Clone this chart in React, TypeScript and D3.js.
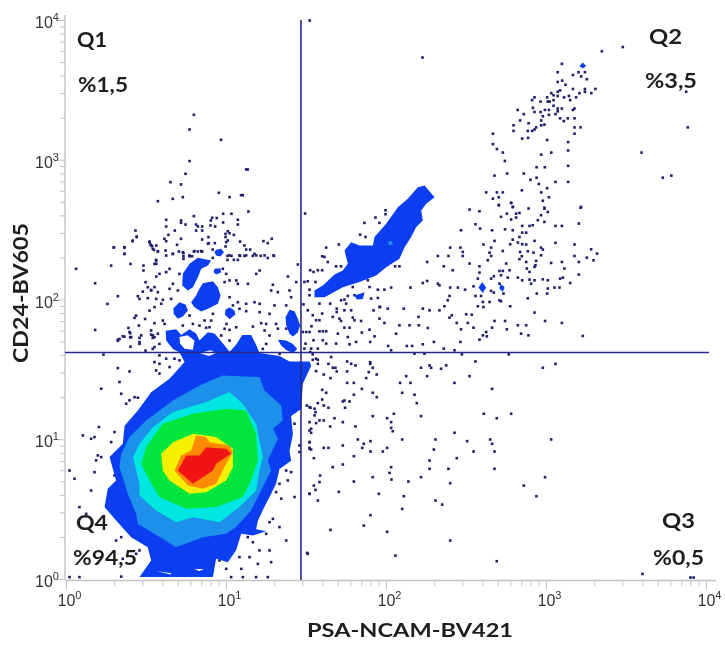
import React from "react";
import * as d3 from "d3";

type P = number[];
// All event positions are log10(fluorescence): [log10 PSA-NCAM, log10 CD24]
const xTickDecades = [0, 1, 2, 3, 4];
const yTickDecades = [0, 1, 2, 3, 4];
const gateX = 29.2;
const gateY = 42.1;
const quadrants = [
  { name: "Q1", pct: "%1,5" },
  { name: "Q2", pct: "%3,5" },
  { name: "Q3", pct: "%0,5" },
  { name: "Q4", pct: "%94,5" },
];

const densityLevels: P[][] = [
  [[.62,1.78],[.685,1.79],[.717,1.75],[.769,1.79],[.81,1.76],[.831,1.71],[.883,1.77],[.925,1.76],[.977,1.69],[1.019,1.63],[1.06,1.68],[1.098,1.75],[1.154,1.75],[1.185,1.68],[1.206,1.62],[1.331,1.6],[1.394,1.56],[1.519,1.56],[1.529,1.53],[1.477,1.4],[1.467,1.22],[1.404,1.17],[1.415,1.04],[1.394,.92],[1.404,.85],[1.331,.79],[1.31,.685],[1.269,.59],[1.237,.52],[1.196,.42],[1.185,.36],[1.248,.346],[1.165,.315],[1.092,.327],[1.06,.21],[1.008,.124],[.935,.148],[.915,.017],[.456,.017],[.529,.136],[.508,.231],[.404,.303],[.31,.422],[.238,.518],[.258,.649],[.31,.709],[.269,.876],[.352,.971],[.363,1.1],[.446,1.21],[.529,1.34],[.644,1.436],[.738,1.556],[.706,1.627],[.665,1.65],[.623,1.71]],
  [[.977,1.46],[1.206,1.449],[1.2375,1.353],[1.342,1.245],[1.352,1.138],[1.29,1.078],[1.321,1.007],[1.258,.852],[1.279,.78],[1.206,.613],[1.154,.494],[1.06,.375],[.998,.327],[.852,.303],[.685,.231],[.602,.291],[.446,.398],[.435,.47],[.383,.613],[.331,.804],[.342,.9],[.394,1.019],[.498,1.138],[.665,1.281],[.831,1.389]],
  [[1.019,1.341],[1.102,1.258],[1.185,1.114],[1.227,.875],[1.206,.78],[1.185,.637],[1.081,.518],[.956,.41],[.79,.446],[.685,.41],[.56,.494],[.456,.601],[.456,.685],[.415,.875],[.456,.971],[.54,1.09],[.665,1.198],[.873,1.27]],
  [[.998,1.222],[1.123,1.21],[1.185,1.043],[1.196,.852],[1.154,.709],[1.102,.59],[.935,.518],[.748,.506],[.581,.59],[.519,.709],[.467,.828],[.498,.948],[.602,1.114],[.79,1.186]],
  [[.79,1.043],[.935,1.019],[1.04,.935],[1.04,.804],[.998,.709],[.873,.625],[.769,.613],[.644,.709],[.602,.78],[.592,.9],[.665,.983]],
  [[.81,1.031],[.873,1.019],[.894,.983],[1.019,.959],[1.04,.911],[.998,.828],[.935,.685],[.852,.649],[.758,.673],[.675,.78],[.717,.887],[.779,.923]],
  [[.748,.887],[.831,.887],[.873,.947],[.998,.935],[1.029,.899],[.935,.828],[.915,.78],[.79,.685],[.696,.78]],
];
const levelColors = ["#0a3ef0", "#1c90ea", "#00e6e0", "#00e63c", "#f4f000", "#ff8c00", "#f01414"];

const outerIslands: P[][] = [
  [[.727,2.187],[.769,2.259],[.821,2.302],[.904,2.283],[.884,2.247],[.842,2.223],[.821,2.163],[.79,2.092],[.759,2.068],[.723,2.104]],
  [[.852,2.12],[.915,2.135],[.946,2.092],[.963,2.032],[.946,1.973],[.884,1.937],[.842,1.918],[.8,1.949],[.779,1.984],[.81,2.032],[.831,2.08]],
  [[.706,1.984],[.744,1.968],[.759,1.925],[.727,1.882],[.696,1.865],[.669,1.901],[.669,1.941]],
  [[1.019,1.949],[1.05,1.925],[1.056,1.896],[1.019,1.863],[.99,1.896],[.994,1.93]],
  [[.935,2.359],[.967,2.366],[.984,2.342],[.961,2.311],[.935,2.319],[.925,2.342]],
  [[.925,2.223],[.961,2.228],[.967,2.199],[.936,2.183],[.919,2.199]],
  [[1.394,1.93],[1.425,1.92],[1.446,1.865],[1.46,1.817],[1.446,1.77],[1.415,1.739],[1.394,1.758],[1.373,1.817],[1.369,1.877]],
  [[1.321,1.715],[1.373,1.71],[1.415,1.686],[1.442,1.65],[1.415,1.619],[1.373,1.643],[1.342,1.674]],
  [[1.55,2.068],[1.602,2.104],[1.675,2.182],[1.727,2.211],[1.758,2.259],[1.738,2.354],[1.779,2.414],[1.831,2.39],[1.915,2.39],[1.925,2.45],[1.998,2.545],[2.071,2.664],[2.133,2.724],[2.196,2.807],[2.238,2.819],[2.3,2.736],[2.248,2.688],[2.217,2.64],[2.227,2.569],[2.185,2.521],[2.154,2.45],[2.113,2.378],[2.081,2.295],[1.998,2.235],[1.935,2.175],[1.831,2.128],[1.727,2.092],[1.613,2.02],[1.55,2.02]],
  [[1.8,2.032],[1.863,2.056],[1.852,2.008],[1.815,2.003]],
  [[2.598,2.129],[2.623,2.089],[2.602,2.05],[2.575,2.089]],
  [[2.712,2.117],[2.737,2.089],[2.727,2.058],[2.706,2.082]],
  [[3.227,3.7],[3.248,3.675],[3.227,3.656],[3.206,3.675]],
];
const lightSpot: P[] = [[2.01,2.42],[2.035,2.42],[2.04,2.395],[2.015,2.39]];
const densityGaps: P[][] = [
  [[.56,.06],[.655,.045],[.65,.035],[.6,.05]],
  [[.8,.076],[.86,.076],[.83,.06]],
  [[.706,1.735],[.756,1.747],[.8,1.711],[.79,1.644],[.738,1.652],[.71,1.687]],
  [[.83,1.62],[.9,1.64],[.935,1.62],[.89,1.6]],
];

const eventsDiagonalHigh: P[] = [[3.477,3.81],[3.346,3.78],[3.096,3.69],[3.07,3.63],[3.2,3.63],[3.165,3.61],[3.24,3.63],[3.217,3.6],[3.252,3.58],[3.07,3.56],[3.098,3.57],[3.119,3.54],[3.085,3.5],[3.07,3.49],[3.165,3.51],[3.206,3.48],[3.24,3.51],[3.24,3.49],[3.28,3.48],[3.306,3.51],[3.03,3.48],[3.044,3.465],[3.07,3.46],[3.11,3.45],[3.14,3.46],[3.185,3.45],[3.148,3.43],[2.925,3.45],[2.91,3.43],[3.004,3.45],[2.963,3.42],[3.008,3.42],[3.044,3.43],[3.02,3.42],[3.044,3.39],[2.915,3.375],[2.82,3.36],[2.858,3.33],[2.925,3.345],[2.963,3.345],[2.99,3.36],[3.015,3.36],[3.07,3.37],[3.096,3.37],[3.07,3.35],[3.175,3.37],[3.165,3.36],[3.015,3.325],[2.977,3.315],[3.056,3.33],[3.085,3.3],[3.108,3.28],[3.133,3.3],[3.175,3.3],[2.967,3.285],[2.835,3.285],[2.888,3.265],[2.794,3.25],[2.987,3.255],[2.967,3.25],[2.935,3.235],[2.925,3.22],[2.883,3.21],[2.91,3.21],[2.794,3.21],[3.175,3.235],[3.213,3.235],[3.175,3.19],[2.665,3.19],[2.848,3.155],[2.885,3.16],[3.004,3.145],[3.135,3.13],[2.665,3.115],[2.69,3.08],[2.727,3.055],[3.135,3.07],[3.03,3.055],[2.967,3.04],[3.594,3.055],[3.883,3.235],[2.74,2.995],[3.135,2.96],[2.938,2.95],[2.99,2.95],[2.675,2.89],[2.754,2.905],[2.858,2.905],[2.9,2.86],[2.938,2.875],[3.056,2.845],[3.135,2.845],[2.952,2.83],[3.004,2.8],[2.846,2.785],[2.623,2.77],[2.69,2.77],[2.727,2.77],[2.967,2.77],[3.015,2.735],[2.665,2.725],[2.702,2.735],[2.977,2.71],[2.779,2.695],[2.702,2.68],[2.987,2.66],[2.79,2.665],[2.888,2.655],[3.213,2.66],[3.727,2.875],[3.78,2.89],[3.873,3.49],[1.52,4.0],[2.225,3.735]];

const eventsAboveGateRight: P[] = [[2.519,2.647],[2.581,2.635],[2.702,2.678],[2.779,2.695],[2.789,2.666],[2.752,2.618],[2.81,2.618],[2.831,2.623],[2.716,2.595],[2.779,2.576],[2.81,2.59],[2.987,2.654],[3.008,2.63],[2.966,2.607],[3.216,2.666],[2.946,2.571],[2.987,2.559],[2.914,2.535],[2.848,2.53],[2.894,2.53],[3.056,2.53],[3.096,2.53],[3.202,2.547],[2.556,2.542],[2.585,2.511],[2.66,2.499],[2.741,2.506],[2.466,2.499],[2.789,2.499],[2.848,2.482],[2.873,2.482],[2.831,2.451],[2.789,2.432],[2.773,2.399],[2.675,2.423],[2.606,2.397],[2.821,2.411],[2.848,2.399],[2.873,2.397],[2.925,2.423],[3.056,2.409],[3.175,2.397],[2.654,2.375],[2.966,2.375],[2.977,2.361],[3.279,2.363],[3.316,2.332],[2.398,2.375],[2.462,2.375],[2.477,2.344],[2.644,2.339],[2.727,2.351],[2.835,2.344],[2.846,2.313],[2.883,2.349],[2.919,2.339],[2.966,2.32],[3.175,2.315],[3.252,2.303],[3.294,2.284],[2.321,2.315],[2.387,2.315],[2.477,2.315],[2.654,2.315],[2.633,2.284],[2.831,2.292],[2.873,2.272],[2.935,2.28],[3.029,2.265],[3.096,2.272],[3.202,2.272],[2.254,2.272],[2.519,2.261],[2.358,2.241],[2.581,2.241],[2.748,2.261],[2.877,2.225],[2.925,2.237],[3.112,2.225],[2.931,2.249],[2.414,2.213],[2.706,2.208],[2.727,2.208],[2.769,2.213],[2.581,2.196],[2.894,2.201],[3.202,2.182],[2.654,2.153],[2.671,2.17],[2.716,2.177],[2.571,2.153],[2.758,2.16],[2.821,2.16],[2.848,2.141],[2.894,2.146],[2.925,2.141],[2.977,2.148],[3.008,2.141],[3.085,2.153],[3.102,2.16],[3.148,2.122],[2.254,2.136],[2.321,2.117],[2.331,2.105],[2.227,2.122],[2.706,2.117],[2.904,2.117],[2.727,2.089],[3.05,2.089],[3.008,2.082],[3.081,2.089],[2.15,2.089],[2.398,2.089],[2.446,2.089],[2.491,2.074],[2.544,2.098],[2.654,2.065],[2.731,2.046],[2.939,2.046],[3.004,2.046],[2.394,2.029],[2.556,2.029],[2.591,2.029],[2.671,2.053],[2.706,1.998],[2.883,2.012],[2.362,1.955],[2.383,1.998],[2.602,1.986],[2.644,1.986],[2.716,1.991],[2.571,1.955],[2.606,1.95],[2.773,1.955],[2.227,1.938],[2.269,1.926],[2.331,1.926],[2.108,1.938],[2.008,1.938],[1.96,1.95],[2.925,1.91],[2.498,1.898],[2.533,1.895],[2.408,1.891],[2.394,1.874],[2.991,1.85],[3.096,1.836],[2.2,1.879],[2.202,1.819],[2.144,1.819],[2.081,1.819],[2.439,1.836],[2.508,1.836],[2.675,1.85],[2.741,1.85],[2.821,1.819],[2.873,1.819],[2.258,1.8],[2.466,1.79],[2.544,1.802],[2.66,1.802],[2.752,1.79],[2.841,1.759],[2.887,1.747],[3.227,1.743],[2.623,1.771],[2.602,1.747],[2.627,1.74],[2.581,1.716],[2.06,1.759],[2.462,1.7],[2.296,1.7],[2.227,1.683],[2.358,1.652],[2.425,1.64],[2.127,1.671],[2.16,1.671],[2.01,1.671],[2.029,1.64],[2.175,1.616],[2.237,1.616],[2.471,1.611],[2.764,1.611]];

const eventsAboveGateNear: P[] = [[1.491,2.619],[1.862,2.552],[1.931,2.59],[1.956,2.552],[1.994,2.642],[1.994,2.614],[1.835,2.468],[1.869,2.451],[1.702,2.397],[1.623,2.375],[1.598,2.313],[1.633,2.272],[1.612,2.308],[1.523,2.213],[1.544,2.201],[1.571,2.213],[1.598,2.213],[1.685,2.241],[1.716,2.241],[1.487,2.129],[1.508,2.134],[1.556,2.129],[1.519,2.074],[1.519,2.034],[2.054,2.241],[2.081,2.241],[1.883,2.141],[1.894,2.093],[1.789,2.093],[1.737,2.003],[1.758,2.029],[1.716,1.998],[1.748,1.974],[1.8,2.034],[1.904,2.01],[1.946,2.074],[1.987,2.074],[2.029,2.089],[1.946,2.015],[1.919,1.926],[1.956,1.95],[1.481,1.969],[1.508,1.926],[1.581,1.974],[1.648,1.974],[1.689,1.938],[1.689,1.914],[1.737,1.926],[1.779,1.926],[1.789,1.874],[1.539,1.891],[1.598,1.903],[1.56,1.855],[1.581,1.855],[1.664,1.879],[1.706,1.867],[1.716,1.85],[1.8,1.855],[1.841,1.85],[1.956,1.867],[1.987,1.836],[1.531,1.812],[1.581,1.776],[1.602,1.776],[1.623,1.776],[1.519,1.771],[1.477,1.771],[1.498,1.771],[1.696,1.759],[1.737,1.802],[1.769,1.802],[1.894,1.788],[1.846,1.767],[1.925,1.74],[1.758,1.735],[1.602,1.712],[1.544,1.712],[1.685,1.688],[1.769,1.683],[1.81,1.7],[1.898,1.7],[1.623,1.688],[1.494,1.688],[1.487,1.652],[1.529,1.652],[1.571,1.652],[1.523,1.628],[1.539,1.611],[1.654,1.592],[1.56,1.58]];

const eventsBelowGateRight: P[] = [[1.539,1.572],[1.571,1.572],[1.571,1.543],[1.637,1.543],[1.754,1.56],[1.779,1.543],[1.806,1.532],[1.898,1.555],[1.898,1.543],[2.556,1.56],[3.056,1.543],[2.977,1.515],[1.664,1.515],[1.681,1.515],[1.56,1.491],[1.689,1.489],[1.754,1.489],[1.914,1.515],[2.216,1.515],[2.269,1.532],[2.279,1.515],[2.373,1.532],[2.341,1.508],[1.889,1.484],[1.939,1.467],[1.608,1.467],[2.123,1.455],[2.254,1.455],[2.519,1.455],[1.65,1.441],[1.873,1.441],[1.754,1.407],[1.796,1.407],[2.085,1.407],[2.15,1.407],[2.425,1.407],[1.846,1.364],[1.598,1.357],[1.623,1.336],[1.914,1.336],[2.098,1.336],[2.175,1.322],[2.66,1.364],[1.796,1.322],[1.939,1.305],[1.598,1.288],[1.737,1.281],[1.727,1.274],[1.769,1.274],[2.189,1.262],[1.571,1.262],[1.502,1.245],[1.525,1.229],[1.608,1.245],[1.637,1.229],[1.741,1.229],[1.556,1.197],[1.55,1.174],[2.608,1.186],[2.779,1.186],[2.046,1.186],[1.914,1.169],[2.216,1.169],[2.004,1.154],[2.689,1.154],[1.675,1.154],[1.581,1.138],[1.608,1.138],[1.519,1.126],[1.56,1.119],[1.727,1.126],[2.029,1.126],[1.806,1.095],[1.648,1.095],[2.029,1.085],[2.039,1.061],[1.519,1.066],[1.529,1.05],[2.425,1.05],[1.821,1.002],[1.9,.99],[1.858,.971],[2.098,1.002],[2.306,1.002],[2.504,.99],[2.648,1.002],[2.66,.971],[3.029,1.002],[1.519,.983],[1.519,.942],[1.529,.93],[1.608,.942],[1.637,.942],[1.727,.959],[1.848,.942],[2.004,.942],[2.296,.93],[1.9,.916],[1.977,.916],[2.544,.916],[2.675,.916],[1.796,.882],[1.546,.868],[2.439,.868],[2.269,.851],[1.727,.823],[1.664,.804],[2.029,.804],[2.269,.792],[2.387,.792],[2.675,.792],[2.019,.763],[1.585,.744],[1.914,.732],[2.216,.732],[2.991,.732],[2.031,.715],[1.796,.701],[2.137,.701],[2.398,.689],[1.546,.672],[2.858,.672],[1.556,.641],[1.702,.627],[1.519,.613],[1.952,.613],[2.108,.596],[2.937,.596],[1.571,.565],[2.306,.565],[2.348,.536],[2.098,.505],[1.9,.46],[1.858,.386],[1.65,.355],[2.004,.341],[2.398,.279],[1.504,.19],[2.056,.171],[2.689,.131],[3.6,.04],[3.9,.014],[3.92,.014]];

const eventsQ1Upper: P[] = [[.796,3.325],[.769,3.22],[.966,3.146],[.769,2.994],[1.123,2.934],[1.133,2.934],[.744,2.903],[.65,2.843],[.716,2.827],[.952,2.767],[1.091,2.75],[1.102,2.75],[1.019,2.736],[.727,2.736],[.664,2.724],[.571,2.707],[1.137,2.633],[.796,2.6],[.979,2.617],[1.031,2.617],[.91,2.588],[.939,2.586],[.902,2.569],[.623,2.574],[.716,2.569],[.716,2.552],[.744,2.54],[1.071,2.574],[.979,2.555],[1.071,2.54],[.9,2.533],[.81,2.54],[.821,2.526],[.848,2.526],[.929,2.526],[.623,2.526],[.431,2.497],[.677,2.497],[.81,2.497],[.848,2.497],[1.008,2.492],[.994,2.473],[1.019,2.478],[1.046,2.466],[.637,2.466],[.439,2.45],[.887,2.45],[.848,2.433],[.994,2.45],[.716,2.438],[.612,2.438],[.623,2.421],[.414,2.421],[.519,2.418],[1.085,2.418],[1.231,2.421],[1.283,2.438],[1.258,2.407],[.889,2.407],[.927,2.407],[1.008,2.426],[.998,2.414],[.994,2.383],[.525,2.397],[.535,2.385],[.691,2.395],[1.112,2.39],[.296,2.375],[.362,2.375],[.546,2.359],[.571,2.347],[.796,2.347],[.821,2.347],[.848,2.347],[1.123,2.361],[1.148,2.361],[.702,2.347],[.731,2.335],[.914,2.361],[.362,2.33],[.664,2.33],[.623,2.318],[.731,2.313],[.769,2.313],[.785,2.313],[.914,2.301],[1.006,2.316],[1.031,2.316],[1.085,2.316],[1.112,2.316],[1.164,2.316],[1.214,2.316],[1.258,2.301],[1.296,2.316],[1.175,2.33],[.56,2.287],[.731,2.294],[1.006,2.287],[1.046,2.287],[1.071,2.287]];

const eventsQ1Band: P[] = [[.561,2.39],[.619,2.354],[.665,2.33],[.727,2.342],[.769,2.319],[.8,2.35],[.842,2.35],[.884,2.402],[1.019,2.319],[1.081,2.319],[1.123,2.319],[1.186,2.319],[1.238,2.319],[1.294,2.319],[.561,2.259],[.644,2.223],[.623,2.199],[.561,2.168],[.581,2.187],[.706,2.187],[.665,2.116],[.55,2.092],[.644,2.08],[.571,2.056],[.529,2.068],[.696,2.068],[.654,2.008],[.561,2.008],[.602,2.001],[.55,1.949],[.592,1.973],[.769,1.889],[.977,2.223],[.998,2.187],[1.019,2.14],[.988,2.128],[1.061,2.14],[1.134,2.116],[1.071,2.116],[1.186,2.187],[1.207,2.211],[1.29,2.109],[1.384,2.168],[1.446,2.254],[1.436,2.128],[1.394,2.068],[1.321,2.056],[1.404,2.02],[1.279,2.068],[1.019,2.02],[1.123,1.973],[1.071,1.984],[1.04,1.961],[1.175,1.984],[1.207,1.973],[1.3,1.961],[1.373,1.961],[1.269,1.901],[1.207,1.913],[1.123,1.92],[1.081,1.937],[.915,1.901],[.863,1.853],[.904,1.853],[1.0,1.829],[1.019,1.786],[1.061,1.805],[1.165,1.81],[1.217,1.834],[1.248,1.829],[1.31,1.829],[1.238,1.782],[1.269,1.746],[1.321,1.795],[1.373,1.795],[1.248,1.686],[.967,1.746],[.988,1.794],[.894,1.805],[.831,1.817],[.873,1.801],[.55,1.834],[.602,1.853],[.613,1.829],[.529,1.782],[.55,1.734],[.581,1.686],[.55,1.663],[1.019,1.71],[1.227,1.65],[1.332,1.615],[.79,1.829],[.727,1.817]];

const eventsQ1Left: P[] = [[.296,2.378],[.362,2.378],[.362,2.33],[.414,2.425],[.439,2.454],[.519,2.413],[.529,2.39],[.539,2.366],[.571,2.349],[.06,2.223],[.279,2.246],[.4,2.258],[.481,2.246],[.481,2.211],[.56,2.282],[.55,2.258],[.179,2.12],[.494,2.127],[.321,2.027],[.256,1.972],[.446,2.027],[.456,2.008],[.508,2.013],[.477,2.06],[.508,2.091],[.529,2.072],[.519,1.924],[.435,1.888],[.425,1.872],[.491,1.864],[.452,1.817],[.179,1.786],[.387,1.8],[.398,1.762],[.398,1.733],[.362,1.738],[.331,1.721],[.321,1.709],[.456,1.729],[.4,1.666],[.456,1.686],[.529,1.752],[.539,1.729],[.494,1.638],[.231,1.609],[.539,1.65]];

const eventsAroundCore: P[] = [[.394,1.771],[.404,1.735],[.467,1.747],[.456,1.699],[.321,1.716],[.352,1.74],[.54,1.747],[.571,1.759],[.581,1.604],[.55,1.556],[.581,1.544],[.623,1.58],[.675,1.58],[.706,1.568],[.321,1.513],[.394,1.489],[.56,1.496],[.581,1.473],[.644,1.52],[.217,1.365],[.331,1.413],[.342,1.329],[.394,1.282],[.425,1.305],[.446,1.301],[.373,1.258],[.202,1.091],[.175,1.019],[.154,1.007],[.102,1.031],[.3,1.055],[.279,.983],[.196,.888],[.217,.876],[.185,.852],[.175,.768],[.019,.78],[.05,.721],[.154,.637],[.3,.745],[.081,.518],[.123,.47],[.342,.303],[.31,.279],[.456,.208],[.435,.184],[.352,.148],[.342,.021],[.081,.017],[.019,.017],[1.456,1.341],[1.519,1.234],[1.55,1.222],[1.529,1.079],[1.519,.983],[1.519,.936],[1.456,.912],[1.425,1.115],[1.456,.959],[1.373,.78],[1.404,.768],[1.383,.709],[1.342,.578],[1.31,.625],[1.425,.59],[1.519,.613],[1.581,.697],[1.331,.685],[1.29,.434],[1.269,.41],[1.331,.375],[1.373,.279],[1.248,.327],[1.133,.303],[1.165,.267],[1.206,.208],[1.269,.208],[1.144,.16],[1.196,.112],[1.279,.124],[1.258,.017],[1.185,.017],[.956,.136],[.998,.076],[1.029,.017],[1.081,.16],[1.092,.076],[1.102,.017],[1.508,.184]];

const allEvents = [eventsDiagonalHigh, eventsAboveGateRight, eventsAboveGateNear, eventsBelowGateRight, eventsQ1Upper, eventsQ1Band, eventsQ1Left, eventsAroundCore].flat();

const W = 725;
const H = 649;
const x = d3.scaleLog().domain([1, 1e4]).range([66.5, 706.5]);
const y = d3.scaleLog().domain([1, 1e4]).range([579.5, 20.5]);
const path = d3.line<P>().x((d) => x(10 ** d[0])).y((d) => y(10 ** d[1]));
const axisGrey = "#c3c3c6";
const labelInk = "#1e1e22";
const gateInk = "#26288c";
const bodyFont = "'Lato','Open Sans',sans-serif";

const quadPlacement = [
  { nx: 77, ny: 47, nw: 30, px: 78, py: 92, pw: 50 },
  { nx: 649, ny: 44, nw: 33, px: 645, py: 88, pw: 52 },
  { nx: 662, ny: 528, nw: 33, px: 653, py: 565, pw: 51 },
  { nx: 76, ny: 530, nw: 32, px: 73, py: 565, pw: 64 },
];

export default function App() {
  return (
    <svg width={W} height={H} viewBox={`0 0 ${W} ${H}`} style={{ position: "absolute", left: 0, top: 0, background: "#fff", filter: "blur(0.4px)" }}>
      <line x1={65} x2={65} y1={15} y2={580} stroke={axisGrey} strokeWidth={1.4} />
      <line x1={65} x2={716} y1={580.5} y2={580.5} stroke={axisGrey} strokeWidth={1.4} />
      {y.ticks().map((t) => {
        const major = Number.isInteger(Math.log10(t));
        return <line key={t} x1={major ? 57 : 60} x2={65} y1={y(t)} y2={y(t)} stroke={axisGrey} strokeWidth={1} />;
      })}
      {x.ticks().map((t) => {
        const major = Number.isInteger(Math.log10(t));
        return <line key={t} x1={x(t)} x2={x(t)} y1={580} y2={major ? 589 : 586} stroke={axisGrey} strokeWidth={1} />;
      })}
      {allEvents.map((d, i) => (
        <rect key={i} x={x(10 ** d[0]) - 1.3} y={y(10 ** d[1]) - 1.3} width={2.6} height={2.6} fill="#1f1f68" />
      ))}
      {outerIslands.map((poly, i) => (
        <path key={i} d={path(poly) + "Z"} fill={levelColors[0]} />
      ))}
      <path d={path(lightSpot) + "Z"} fill={levelColors[1]} />
      {densityLevels.map((poly, i) => (
        <path key={i} d={path(poly) + "Z"} fill={levelColors[i]} />
      ))}
      {densityGaps.map((poly, i) => (
        <path key={i} d={path(poly) + "Z"} fill="#ffffff" />
      ))}
      <line x1={x(gateX)} x2={x(gateX)} y1={20} y2={580} stroke={gateInk} strokeWidth={1.6} />
      <line x1={65} x2={709} y1={y(gateY)} y2={y(gateY)} stroke={gateInk} strokeWidth={1.6} />
      {xTickDecades.map((e) => (
        <text key={e} x={x(10 ** e) - 9} y={606} fontFamily="'Liberation Sans',sans-serif" fontSize={16} fill="#333">
          10<tspan dy={-7} fontSize={11}>{e}</tspan>
        </text>
      ))}
      {yTickDecades.map((e) => (
        <text key={e} x={35} y={y(10 ** e) + 7.5} fontFamily="'Liberation Sans',sans-serif" fontSize={16} fill="#333">
          10<tspan dy={-7} fontSize={11}>{e}</tspan>
        </text>
      ))}
      <text x={307} y={637} textLength={206} lengthAdjust="spacingAndGlyphs" fontFamily={bodyFont} fontWeight={700} fontSize={19} fill={labelInk}>PSA-NCAM-BV421</text>
      <text transform="translate(28,363) rotate(-90)" textLength={140} lengthAdjust="spacingAndGlyphs" fontFamily={bodyFont} fontWeight={700} fontSize={20} fill={labelInk}>CD24-BV605</text>
      {quadrants.map((q, i) => (
        <g key={q.name} fontFamily={bodyFont} fontWeight={700} fill={labelInk} fontSize={21}>
          <text x={quadPlacement[i].nx} y={quadPlacement[i].ny} textLength={quadPlacement[i].nw} lengthAdjust="spacingAndGlyphs">{q.name}</text>
          <text x={quadPlacement[i].px} y={quadPlacement[i].py} textLength={quadPlacement[i].pw} lengthAdjust="spacingAndGlyphs">{q.pct}</text>
        </g>
      ))}
    </svg>
  );
}
